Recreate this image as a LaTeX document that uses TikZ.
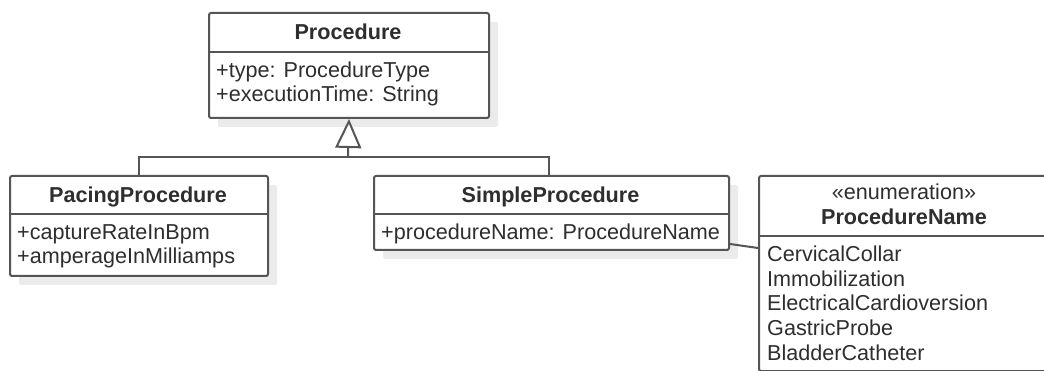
\documentclass[tikz,border=0pt]{standalone}
\usepackage{fontspec}
\setmainfont{Liberation Sans}
\usetikzlibrary{arrows.meta,calc,shadows}

\definecolor{umlline}{HTML}{555555}
\definecolor{umltext}{HTML}{2E2E2E}
\definecolor{umlshadow}{HTML}{EBEBEB}

\tikzset{
  umlbox/.style={rectangle, draw=umlline, line width=2pt, fill=white,
    rounded corners=2pt, inner sep=0pt, anchor=north west,
    general shadow={fill=umlshadow, shadow xshift=9pt, shadow yshift=-9pt}},
  divider/.style={draw=umlline, line width=2pt},
  classtitle/.style={font=\bfseries\fontsize{21.6}{24}\selectfont,
    text=umltext, anchor=base, inner sep=0pt},
  member/.style={font=\fontsize{21.6}{24}\selectfont,
    text=umltext, anchor=base west, inner sep=0pt},
  stereo/.style={font=\fontsize{21.6}{24}\selectfont,
    text=umltext, anchor=base, inner sep=0pt},
  connector/.style={draw=umlline, line width=2pt},
  generalization/.style={connector,
    -{Triangle[open, width=26pt, length=29pt, fill=white]}},
}

\begin{document}
\begin{tikzpicture}[x=1pt, y=-1pt]
  \useasboundingbox (0,0) rectangle (1044,371);
  \clip (0,0) rectangle (1044,371);

  % class boxes
  \node[umlbox, minimum width=280pt, minimum height=105pt] (proc)   at (208,12)  {};
  \node[umlbox, minimum width=258pt, minimum height=100pt] (pacing) at (9,175)   {};
  \node[umlbox, minimum width=355pt, minimum height=74pt]  (simple) at (373,175) {};
  \node[umlbox, minimum width=292pt, minimum height=195pt] (enum)   at (758,175) {};

  % compartment separators
  \draw[divider] (208,52)  -- (488,52);
  \draw[divider] (9,214)   -- (267,214);
  \draw[divider] (373,214) -- (728,214);
  \draw[divider] (758,236) -- (1050,236);

  % Procedure
  \node[classtitle] (procname) at (348,39.5) {Procedure};
  \node[member] (proctype) at (216,78)  {+type: ProcedureType};
  \node[member] (proctime) at (216,102) {+executionTime: String};

  % PacingProcedure
  \node[classtitle] (pacingname) at (138,202.5) {PacingProcedure};
  \node[member] (pacingrate) at (17,240) {+captureRateInBpm};
  \node[member] (pacingamp)  at (17,264) {+amperageInMilliamps};

  % SimpleProcedure
  \node[classtitle] (simplename) at (550.5,202.5) {SimpleProcedure};
  \node[member] (simpleattr) at (381,240) {+procedureName: ProcedureName};

  % ProcedureName enumeration
  \node[stereo]     (enumstereo) at (904,200) {«enumeration»};
  \node[classtitle] (enumname)   at (904,225) {ProcedureName};
  \node[member] (lit1) at (767,262)   {CervicalCollar};
  \node[member] (lit2) at (767,286.5) {Immobilization};
  \node[member] (lit3) at (767,311)   {ElectricalCardioversion};
  \node[member] (lit4) at (767,335.5) {GastricProbe};
  \node[member] (lit5) at (767,360)   {BladderCatheter};

  % generalization tree
  \coordinate (bus) at (348,157);
  \draw[connector] (pacing.north) |- (bus) -| ([xshift=-2.5pt]simple.north);
  \draw[generalization] (bus) -- (proc.south);

  % association
  \draw[connector] ($(simple.south east)+(0,-7)$) -- ($(enum.north west)+(0,73)$);
\end{tikzpicture}
\end{document}
